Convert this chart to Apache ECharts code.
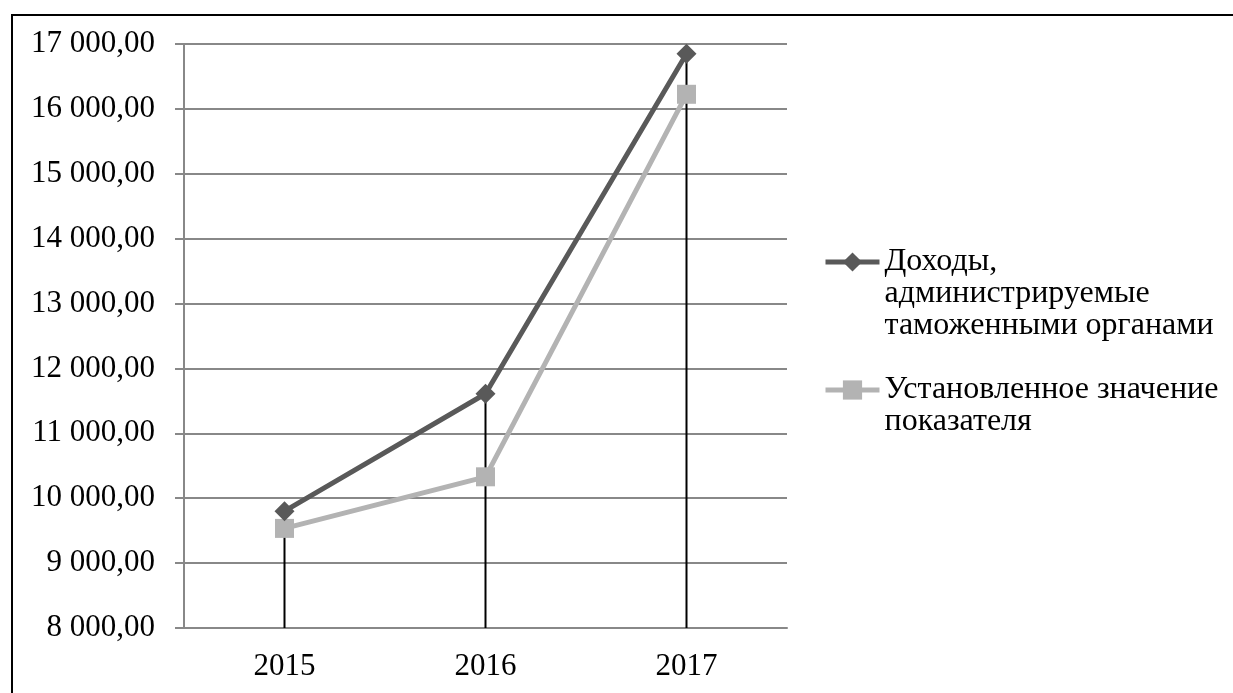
<!DOCTYPE html>
<html>
<head>
<meta charset="utf-8">
<script src="https://cdn.jsdelivr.net/npm/echarts@6/dist/echarts.min.js"></script>
<style>
    html, body { margin: 0; padding: 0; background: #fff; }
    #chart { width: 1233px; height: 693px; }
</style>
</head>
<body>
<div id="chart"></div>
<script>
// годы
const years = ['2015', '2016', '2017'];
// Доходы, администрируемые таможенными органами
const incomeValues = [9800, 11610, 16850];
// Установленное значение показателя
const targetValues = [9535, 10330, 16225];
const seriesNames = [
    'Доходы,\nадминистрируемые\nтаможенными органами',
    'Установленное значение\nпоказателя',
];

const fontFamily = '"Liberation Serif", "Times New Roman", serif';
const lineH = 32;

function formatValue(v) {
    // 17000 -> "17 000,00"
    let s = String(Math.round(v));
    s = s.replace(/\B(?=(\d{3})+(?!\d))/g, ' ');
    return s + ',00';
}

// пустые строки сверху, чтобы значок легенды стоял на уровне первой строки
function legendText(name) {
    const n = name.split('\n').length - 1;
    return ' \n'.repeat(n) + name;
}

const myChart = echarts.init(document.getElementById('chart'));

const option = {
    backgroundColor: '#fff',
    animation: false,
    graphic: [
        {
            type: 'rect',
            shape: { x: 12, y: 15, width: 1300, height: 800 },
            style: { fill: 'none', stroke: '#000', lineWidth: 2 },
            silent: true,
        },
    ],
    grid: {
        left: 184,
        top: 44,
        width: 603,
        height: 584,
    },
    legend: {
        orient: 'vertical',
        left: 823,
        top: 182,
        padding: 0,
        itemWidth: 54,
        itemHeight: 24,
        itemGap: 0,
        align: 'left',
        formatter: legendText,
        lineStyle: { width: 5 },
        textStyle: {
            fontFamily: fontFamily,
            fontSize: 32,
            color: '#000',
            lineHeight: lineH,
        },
        data: seriesNames,
    },
    xAxis: {
        type: 'category',
        data: years,
        boundaryGap: true,
        axisLine: { show: true, lineStyle: { color: '#888', width: 2 } },
        axisTick: { show: false },
        axisLabel: {
            margin: 23,
            fontFamily: fontFamily,
            fontSize: 31,
            color: '#000',
        },
    },
    yAxis: {
        type: 'value',
        min: 8000,
        max: 17000,
        interval: 1000,
        axisLine: { show: true, lineStyle: { color: '#888', width: 2 } },
        axisTick: { show: true, inside: false, length: 9, lineStyle: { color: '#888', width: 2 } },
        splitLine: { show: true, lineStyle: { color: '#888', width: 2 } },
        axisLabel: {
            margin: 29,
            fontFamily: fontFamily,
            fontSize: 31,
            color: '#000',
            formatter: formatValue,
        },
    },
    series: [
        {
            // вертикальные линии от точек к оси
            name: 'drop',
            type: 'bar',
            data: incomeValues,
            barWidth: 2,
            itemStyle: { color: '#000' },
            z: 1,
            silent: true,
        },
        {
            name: seriesNames[0],
            type: 'line',
            data: incomeValues,
            symbol: 'diamond',
            symbolSize: 20,
            lineStyle: { color: '#595959', width: 5 },
            itemStyle: { color: '#595959' },
            z: 3,
        },
        {
            name: seriesNames[1],
            type: 'line',
            data: targetValues,
            symbol: 'rect',
            symbolSize: 19,
            lineStyle: { color: '#b3b3b3', width: 5 },
            itemStyle: { color: '#b3b3b3' },
            z: 2,
        },
    ],
};

myChart.setOption(option);
</script>
</body>
</html>
